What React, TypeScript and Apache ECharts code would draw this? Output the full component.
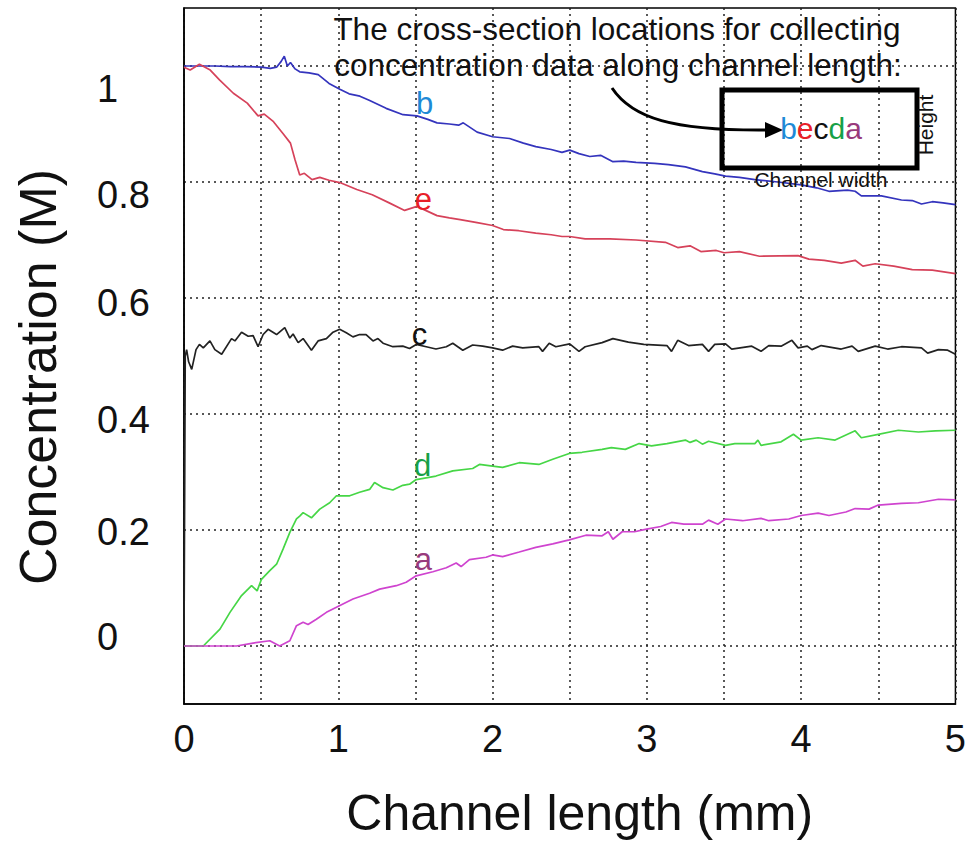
import React, { useEffect, useRef } from "react";
import * as echarts from "echarts";

// ---- Data (x in mm, y in M) ----
const bX = [0, 0.1, 0.2, 0.3, 0.4, 0.5, 0.56, 0.6, 0.63, 0.65, 0.67, 0.69, 0.72, 0.75, 0.81, 0.87, 0.94, 1.01, 1.07, 1.14, 1.2, 1.31, 1.42, 1.51, 1.58, 1.64, 1.72, 1.78, 1.81, 1.9, 2.0, 2.11, 2.2, 2.28, 2.38, 2.45, 2.5, 2.56, 2.63, 2.7, 2.78, 2.85, 2.93, 3.05, 3.14, 3.25, 3.36, 3.44, 3.51, 3.6, 3.7, 3.85, 4.0, 4.1, 4.18, 4.3, 4.35, 4.39, 4.52, 4.65, 4.72, 4.78, 4.85, 4.92, 5.0];
const bY = [1.0, 1.0, 1.0, 0.999, 0.999, 0.998, 0.996, 0.998, 1.008, 1.017, 1.0, 1.006, 0.995, 0.99, 0.988, 0.985, 0.97, 0.96, 0.952, 0.948, 0.941, 0.927, 0.916, 0.914, 0.908, 0.902, 0.9, 0.898, 0.902, 0.886, 0.878, 0.875, 0.867, 0.861, 0.856, 0.851, 0.855, 0.849, 0.844, 0.846, 0.835, 0.836, 0.834, 0.832, 0.83, 0.826, 0.818, 0.814, 0.81, 0.808, 0.804, 0.8, 0.795, 0.79, 0.784, 0.786, 0.784, 0.776, 0.776, 0.769, 0.768, 0.762, 0.766, 0.764, 0.761];

const eX = [0, 0.04, 0.1, 0.17, 0.23, 0.32, 0.41, 0.48, 0.52, 0.58, 0.64, 0.69, 0.72, 0.75, 0.78, 0.83, 0.88, 0.94, 1.01, 1.12, 1.22, 1.33, 1.43, 1.51, 1.64, 1.72, 1.79, 1.9, 2.0, 2.07, 2.17, 2.28, 2.38, 2.45, 2.5, 2.6, 2.76, 2.93, 3.12, 3.2, 3.28, 3.35, 3.45, 3.5, 3.6, 3.73, 3.98, 4.05, 4.15, 4.26, 4.35, 4.4, 4.48, 4.6, 4.72, 4.85, 5.0];
const eY = [0.998, 0.993, 1.003, 0.993, 0.976, 0.953, 0.936, 0.914, 0.917, 0.904, 0.884, 0.867, 0.838, 0.812, 0.815, 0.804, 0.808, 0.803, 0.799, 0.787, 0.778, 0.764, 0.751, 0.758, 0.742, 0.738, 0.735, 0.73, 0.725, 0.718, 0.716, 0.712, 0.709, 0.706, 0.706, 0.702, 0.702, 0.7, 0.696, 0.687, 0.69, 0.68, 0.682, 0.678, 0.68, 0.672, 0.673, 0.667, 0.665, 0.66, 0.665, 0.655, 0.659, 0.655, 0.649, 0.648, 0.642];

const cX = [0, 0.008, 0.017, 0.03, 0.05, 0.078, 0.1, 0.125, 0.168, 0.2, 0.244, 0.308, 0.33, 0.373, 0.416, 0.448, 0.48, 0.513, 0.545, 0.6, 0.653, 0.686, 0.707, 0.74, 0.772, 0.826, 0.869, 0.923, 0.966, 1.009, 1.052, 1.095, 1.138, 1.18, 1.225, 1.257, 1.29, 1.354, 1.418, 1.462, 1.505, 1.57, 1.633, 1.7, 1.742, 1.807, 1.871, 1.936, 2.0, 2.065, 2.13, 2.195, 2.3, 2.324, 2.367, 2.41, 2.5, 2.56, 2.6, 2.71, 2.78, 2.88, 2.98, 3.13, 3.16, 3.2, 3.27, 3.36, 3.4, 3.44, 3.51, 3.55, 3.68, 3.74, 3.79, 3.87, 3.94, 3.98, 4.04, 4.07, 4.13, 4.26, 4.33, 4.37, 4.48, 4.56, 4.65, 4.78, 4.82, 4.89, 4.95, 5.0];
const cY = [0.0, 0.5, 0.511, 0.49, 0.477, 0.511, 0.52, 0.514, 0.526, 0.511, 0.503, 0.53, 0.526, 0.541, 0.534, 0.535, 0.516, 0.537, 0.546, 0.537, 0.549, 0.531, 0.538, 0.523, 0.53, 0.51, 0.526, 0.53, 0.541, 0.546, 0.54, 0.533, 0.537, 0.537, 0.526, 0.53, 0.522, 0.516, 0.517, 0.513, 0.52, 0.516, 0.512, 0.516, 0.522, 0.51, 0.519, 0.517, 0.514, 0.51, 0.517, 0.514, 0.516, 0.508, 0.522, 0.516, 0.521, 0.508, 0.516, 0.523, 0.53, 0.524, 0.52, 0.518, 0.508, 0.527, 0.518, 0.52, 0.508, 0.52, 0.521, 0.512, 0.517, 0.508, 0.518, 0.517, 0.527, 0.514, 0.517, 0.511, 0.518, 0.512, 0.517, 0.508, 0.517, 0.512, 0.516, 0.514, 0.505, 0.511, 0.51, 0.503];

const dX = [0, 0.125, 0.233, 0.298, 0.373, 0.438, 0.474, 0.502, 0.556, 0.6, 0.642, 0.686, 0.729, 0.75, 0.772, 0.826, 0.88, 0.944, 0.988, 1.074, 1.138, 1.203, 1.235, 1.29, 1.354, 1.418, 1.462, 1.505, 1.633, 1.742, 1.871, 1.915, 2.0, 2.065, 2.173, 2.3, 2.39, 2.497, 2.58, 2.71, 2.77, 2.86, 2.95, 3.03, 3.13, 3.25, 3.28, 3.32, 3.36, 3.4, 3.51, 3.57, 3.7, 3.72, 3.74, 3.87, 3.95, 4.0, 4.11, 4.22, 4.35, 4.39, 4.5, 4.63, 4.76, 4.87, 5.0];
const dY = [0.0, 0.0, 0.029, 0.058, 0.087, 0.104, 0.095, 0.115, 0.13, 0.141, 0.167, 0.196, 0.219, 0.224, 0.23, 0.221, 0.236, 0.247, 0.259, 0.259, 0.265, 0.27, 0.282, 0.273, 0.269, 0.277, 0.279, 0.287, 0.293, 0.302, 0.306, 0.313, 0.31, 0.308, 0.316, 0.313, 0.322, 0.332, 0.334, 0.339, 0.342, 0.339, 0.349, 0.345, 0.349, 0.355, 0.351, 0.355, 0.348, 0.353, 0.346, 0.349, 0.349, 0.355, 0.346, 0.352, 0.365, 0.355, 0.359, 0.355, 0.371, 0.359, 0.365, 0.372, 0.369, 0.371, 0.372];

const aX = [0, 0.34, 0.448, 0.556, 0.62, 0.686, 0.729, 0.772, 0.804, 0.858, 0.923, 0.988, 1.095, 1.203, 1.268, 1.376, 1.44, 1.505, 1.613, 1.7, 1.764, 1.796, 1.85, 1.958, 2.0, 2.065, 2.173, 2.28, 2.39, 2.497, 2.605, 2.71, 2.75, 2.78, 2.84, 2.92, 2.99, 3.09, 3.16, 3.24, 3.36, 3.4, 3.46, 3.51, 3.62, 3.74, 3.79, 3.92, 4.0, 4.11, 4.18, 4.29, 4.35, 4.44, 4.5, 4.65, 4.76, 4.89, 5.0];
const aY = [0.0, 0.0, 0.005, 0.009, 0.0, 0.009, 0.035, 0.041, 0.037, 0.046, 0.058, 0.067, 0.081, 0.091, 0.098, 0.104, 0.11, 0.121, 0.128, 0.135, 0.143, 0.137, 0.149, 0.153, 0.157, 0.154, 0.162, 0.17, 0.176, 0.183, 0.191, 0.19, 0.197, 0.184, 0.197, 0.197, 0.201, 0.206, 0.213, 0.21, 0.21, 0.217, 0.21, 0.219, 0.216, 0.22, 0.216, 0.219, 0.225, 0.229, 0.225, 0.231, 0.237, 0.236, 0.243, 0.246, 0.247, 0.253, 0.252];

const yTickValues = [0, 0.2, 0.4, 0.6, 0.8, 1];
const seriesNames = ["b", "e", "c", "d", "a"];
// where each curve's letter label sits [x, y]
const labelX = [1.559, 1.552, 1.527, 1.546, 1.552];
const labelY = [0.936, 0.769, 0.537, 0.312, 0.15];

const FONT = "'Liberation Sans', Arial, Helvetica, sans-serif";

function pairs(xs: number[], ys: number[]) {
  return xs.map((x, i) => [x, ys[i]]);
}

export default function App() {
  const ref = useRef<HTMLDivElement>(null);
  useEffect(() => {
    if (!ref.current) return;
    const chart = echarts.init(ref.current, undefined, { renderer: "svg" });
    const lineColors = ["#3434bd", "#d6425a", "#222222", "#46d646", "#cf44cf"];
    const letterColors = ["#1e8ad6", "#e82028", "#111111", "#17a046", "#983a7c"];
    const dataSets = [pairs(bX, bY), pairs(eX, eY), pairs(cX, cY), pairs(dX, dY), pairs(aX, aY)];

    const yOffsets: Record<string, number> = { "0": -9, "0.2": 2, "0.4": 6, "0.6": 5, "0.8": 13, "1": 23 };
    const rich: Record<string, any> = {};
    Object.keys(yOffsets).forEach((k, i) => {
      const off = yOffsets[k];
      rich["r" + i] = {
        fontSize: 38,
        fontFamily: FONT,
        color: "#111",
        padding: off >= 0 ? [off * 2, 0, 0, 0] : [0, 0, -off * 2, 0],
      };
    });
    const keys = Object.keys(yOffsets);

    chart.setOption({
      animation: false,
      backgroundColor: "#ffffff",
      grid: {
        left: 184,
        right: 12,
        top: 8,
        bottom: 141,
        show: true,
        borderColor: "#000",
        borderWidth: 1.5,
        backgroundColor: "transparent",
        containLabel: false,
      },
      xAxis: {
        type: "value",
        min: 0,
        max: 5,
        interval: 0.5,
        name: "Channel length (mm)",
        nameLocation: "middle",
        nameGap: 84,
        nameTextStyle: { fontSize: 50, fontFamily: FONT, color: "#111", padding: [0, 0, 0, 20] },
        axisLine: { show: true, onZero: false, lineStyle: { color: "#000", width: 1.5 } },
        axisTick: { show: false },
        axisLabel: {
          show: true,
          margin: 16,
          fontSize: 38,
          fontFamily: FONT,
          color: "#111",
          showMinLabel: true,
          showMaxLabel: true,
          formatter: (v: number) => (Math.abs(v - Math.round(v)) < 1e-6 ? String(Math.round(v)) : ""),
        },
        splitLine: { show: true, lineStyle: { color: "#222", width: 1.5, type: [2, 4] } },
      },
      yAxis: {
        type: "value",
        min: -0.1,
        max: 1.1,
        name: "Concentration (M)",
        nameLocation: "middle",
        nameGap: 120,
        nameRotate: 90,
        nameTextStyle: { fontSize: 52, fontFamily: FONT, color: "#111", padding: [0, 42, 0, 0] },
        axisLine: { show: true, onZero: false, lineStyle: { color: "#000", width: 1.5 } },
        axisTick: { show: false, customValues: yTickValues },
        axisLabel: {
          show: true,
          customValues: yTickValues,
          align: "left",
          margin: 87,
          fontSize: 38,
          fontFamily: FONT,
          color: "#111",
          formatter: (v: number) => {
            const s = String(parseFloat(v.toFixed(1)));
            const idx = keys.indexOf(s);
            return idx >= 0 ? "{r" + idx + "|" + s + "}" : s;
          },
          rich,
        },
        splitLine: { show: true, lineStyle: { color: "#222", width: 1.5, type: [2, 4] } },
      },
      series: seriesNames.map((n, i) => ({
        name: n,
        type: "line",
        data: dataSets[i],
        showSymbol: false,
        symbol: "none",
        lineStyle: { color: lineColors[i], width: 1.7 },
        z: 3,
        markPoint: {
          symbol: "circle",
          symbolSize: 0,
          data: [
            {
              coord: [labelX[i], labelY[i]],
              label: {
                show: true,
                position: "inside",
                formatter: n,
                fontSize: 31,
                fontFamily: FONT,
                color: letterColors[i],
              },
            },
          ],
        },
      })),
      graphic: [
        {
          type: "text",
          style: {
            text: "The cross-section locations for collecting",
            x: 617,
            y: 29,
            font: `31.5px ${FONT}`,
            fill: "#111",
            align: "center",
            verticalAlign: "middle",
          },
          z: 10,
        },
        {
          type: "text",
          style: {
            text: "concentration data along channel length:",
            x: 618,
            y: 65,
            font: `31.5px ${FONT}`,
            fill: "#111",
            align: "center",
            verticalAlign: "middle",
          },
          z: 10,
        },
        {
          type: "rect",
          shape: { x: 722, y: 90, width: 195, height: 78 },
          style: { fill: "none", stroke: "#000", lineWidth: 5 },
          z: 10,
        },
        {
          type: "bezierCurve",
          shape: { x1: 612, y1: 88, cpx1: 632, cpy1: 118, cpx2: 672, cpy2: 131, x2: 768, y2: 130 },
          style: { fill: "none", stroke: "#000", lineWidth: 3 },
          z: 10,
        },
        {
          type: "polygon",
          shape: { points: [[783, 130], [765, 122], [765, 138]] },
          style: { fill: "#000" },
          z: 10,
        },
        {
          type: "text",
          style: {
            text: "{b|b}{e|e}{c|c}{d|d}{a|a}",
            x: 821,
            y: 128,
            align: "center",
            verticalAlign: "middle",
            font: `30px ${FONT}`,
            rich: {
              b: { fill: "#1e8ad6", fontSize: 30, fontFamily: FONT },
              e: { fill: "#e82028", fontSize: 30, fontFamily: FONT },
              c: { fill: "#111", fontSize: 30, fontFamily: FONT },
              d: { fill: "#17a046", fontSize: 30, fontFamily: FONT },
              a: { fill: "#983a7c", fontSize: 30, fontFamily: FONT },
            },
          },
          z: 11,
        },
        {
          type: "text",
          x: 925,
          y: 125,
          rotation: Math.PI / 2,
          style: {
            text: "Height",
            x: 0,
            y: 0,
            font: `21px ${FONT}`,
            fill: "#111",
            align: "center",
            verticalAlign: "middle",
          },
          z: 11,
        },
        {
          type: "text",
          style: {
            text: "Channel width",
            x: 821,
            y: 179,
            font: `21px ${FONT}`,
            fill: "#111",
            align: "center",
            verticalAlign: "middle",
          },
          z: 11,
        },
      ],
    });
    return () => chart.dispose();
  }, []);
  return (
    <div
      ref={ref}
      style={{ position: "fixed", left: 0, top: 0, width: 969, height: 845, background: "#fff" }}
    />
  );
}
